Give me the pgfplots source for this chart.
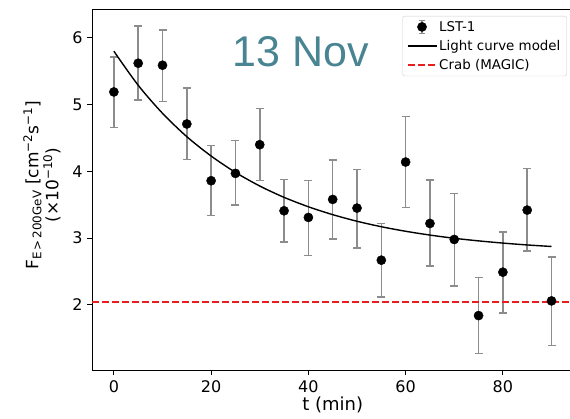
\documentclass[border=0pt]{standalone}
\usepackage{fontspec}
\setmainfont{DejaVu Sans}
\newfontfamily\arialfont{Liberation Sans}
\usepackage{pgfplots}
\usepackage{pgfplotstable}
\pgfplotsset{compat=1.18}
\definecolor{ebgray}{RGB}{140,140,140}
\definecolor{crabred}{RGB}{232,30,30}
\definecolor{titleteal}{RGB}{72,132,146}

\pgfplotstableread{
t y ep em
0 5.19 0.52 0.53
5 5.62 0.56 0.55
10 5.59 0.53 0.54
15 4.71 0.54 0.53
20 3.86 0.53 0.52
25 3.97 0.49 0.47
30 4.40 0.54 0.54
35 3.41 0.47 0.47
40 3.31 0.55 0.57
45 3.58 0.59 0.59
50 3.45 0.58 0.60
55 2.67 0.55 0.55
60 4.14 0.68 0.68
65 3.22 0.65 0.64
70 2.98 0.69 0.70
75 1.84 0.57 0.57
80 2.49 0.60 0.61
85 3.42 0.62 0.61
90 2.06 0.66 0.67
}\lstdata

\pgfplotstableread{
t y
0 5.80
5 5.29
10 4.87
15 4.52
20 4.23
25 3.985
30 3.781
35 3.611
40 3.470
45 3.352
50 3.253
55 3.171
60 3.103
65 3.046
70 2.998
75 2.959
80 2.926
85 2.898
90 2.875
}\modeldata

\begin{document}
\begin{tikzpicture}
\begin{axis}[
  at={(0,0)}, anchor=south west,
  scale only axis,
  width=481.4pt, height=360.5pt,
  xmin=-4.5, xmax=94.5,
  ymin=1.025, ymax=6.425,
  xtick={0,20,40,60,80},
  ytick={2,3,4,5,6},
  tick align=outside,
  tick pos=left,
  major tick length=5pt,
  every tick/.style={black, line width=0.9pt},
  axis line style={black, line width=0.9pt},
  /pgf/number format/assume math mode=true,
  ticklabel style={font=\fontsize{16}{19}\selectfont},
  xticklabel style={yshift=-2pt},
  yticklabel style={xshift=-1pt},
  xlabel={t (min)},
  xlabel style={font=\fontsize{18}{21}\selectfont, at={(axis description cs:0.5,0)}, anchor=north, inner sep=0pt, yshift=-27pt},
  ylabel={F\textsubscript{E\,>\,200GeV} [cm\textsuperscript{−2}s\textsuperscript{−1}]\\(×10\textsuperscript{−10})},
  ylabel style={font=\fontsize{17}{20}\selectfont, align=center, at={(axis description cs:-0.1039,0.513)}, anchor=center},
  legend style={
    at={(axis description cs:0.986,0.982)}, anchor=north east,
    font=\fontsize{13.4}{16}\selectfont,
    draw=black!20, rounded corners=2pt, fill=white,
    inner xsep=4pt, inner ysep=3pt,
    row sep=3.5pt,
    /tikz/every even column/.append style={column sep=9pt}
  },
  legend cell align=left,
]
\addplot[only marks, mark=*, mark size=4.6pt, black, forget plot,
  error bars/.cd, y dir=both, y explicit,
  error bar style={ebgray, line width=1.5pt},
  error mark options={rotate=90, ebgray, mark size=4pt, line width=1.5pt}]
  table[x=t, y=y, y error plus=ep, y error minus=em]{\lstdata};
\addlegendimage{legend image code/.code={
  \draw[ebgray, line width=1.5pt] (14.5pt,-6.5pt) -- (14.5pt,6.5pt);
  \draw[ebgray, line width=1.5pt] (11.5pt,-6.5pt) -- (17.5pt,-6.5pt);
  \draw[ebgray, line width=1.5pt] (11.5pt,6.5pt) -- (17.5pt,6.5pt);
  \fill[black] (14.5pt,0pt) circle (4.6pt);
}}
\addlegendentry{LST-1}
\addplot[black, line width=1.4pt, smooth,
  legend image code/.code={\draw[black, line width=1.4pt] (0pt,0pt) -- (29pt,0pt);}]
  table[x=t,y=y]{\modeldata};
\addlegendentry{Light curve model}
\addplot[crabred, line width=1.6pt, dash pattern=on 7pt off 3pt,
  legend image code/.code={\draw[crabred, line width=1.6pt, dash pattern=on 7pt off 3pt] (0pt,0pt) -- (27pt,0pt);}]
  coordinates {(-4.5,2.04) (94.5,2.04)};
\addlegendentry{Crab (MAGIC)}
\node[anchor=base, font=\arialfont\fontsize{43}{50}\selectfont, text=titleteal] at (axis cs:38.5,5.566) {13 Nov};
\end{axis}
\pgfresetboundingbox
\path (-92pt,-49pt) rectangle (478pt,370pt);
\end{tikzpicture}
\end{document}
